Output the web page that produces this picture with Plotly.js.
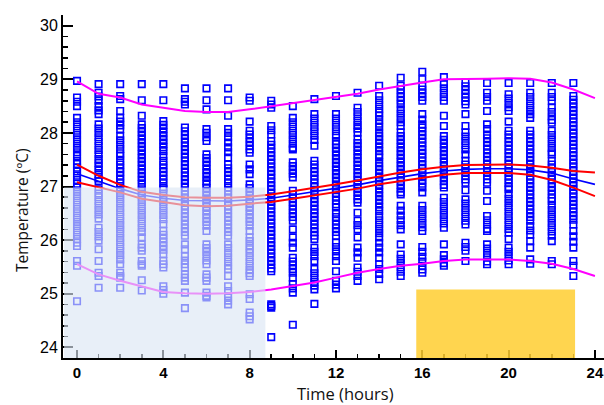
<!DOCTYPE html>
<html>
<head>
<meta charset="utf-8">
<script src="https://cdn.plot.ly/plotly-3.0.1.min.js"></script>
<style>html,body{margin:0;padding:0;background:#fff;}#chart{width:604px;height:405px;}</style>
</head>
<body>
<div id="chart"></div>
<script>
// Observed temperatures (°C) at each hour of day
const h00 = [28.97, 28.66, 28.58, 28.50, 28.28, 28.2, 28.12, 28.04, 27.96, 27.88, 27.8, 27.72, 27.64, 27.57, 27.48, 27.42, 27.35, 27.28, 27.2, 27.12, 27.05, 26.98, 26.9, 26.82, 26.74, 26.66, 26.58, 26.5, 26.42, 26.34, 26.26, 26.18, 26.1, 26.02, 25.95, 25.89, 25.61, 25.52, 24.86];
const h01 = [28.91, 28.75, 28.68, 28.6, 28.5, 28.42, 28.35, 28.16, 28.08, 28.0, 27.92, 27.84, 27.76, 27.68, 27.6, 27.51, 27.44, 27.37, 27.3, 27.22, 27.15, 27.1, 26.95, 26.87, 26.8, 26.72, 26.64, 26.56, 26.48, 26.4, 26.23, 26.15, 26.07, 25.99, 25.83, 25.61, 25.39, 25.33, 25.11];
const h02 = [28.91, 28.69, 28.63, 28.41, 28.28, 28.21, 28.14, 28.07, 27.94, 27.86, 27.78, 27.7, 27.62, 27.57, 27.48, 27.41, 27.34, 27.27, 27.2, 27.13, 27.06, 26.98, 26.92, 26.84, 26.76, 26.68, 26.6, 26.52, 26.44, 26.36, 26.28, 26.2, 26.12, 26.04, 25.96, 25.88, 25.8, 25.72, 25.64, 25.55, 25.39, 25.33, 25.3, 25.11];
const h03 = [28.91, 28.61, 28.32, 28.16, 28.09, 28.02, 27.95, 27.88, 27.81, 27.74, 27.67, 27.6, 27.53, 27.46, 27.39, 27.32, 27.25, 27.18, 27.11, 27.04, 26.95, 26.87, 26.79, 26.71, 26.63, 26.55, 26.47, 26.39, 26.31, 26.23, 26.15, 26.05, 25.92, 25.86, 25.8, 25.61, 25.55, 25.52, 25.25, 25.06];
const h04 = [28.91, 28.61, 28.22, 28.15, 28.08, 28.01, 27.94, 27.87, 27.8, 27.73, 27.66, 27.57, 27.48, 27.41, 27.34, 27.27, 27.2, 27.13, 27.06, 26.98, 26.95, 26.87, 26.79, 26.71, 26.63, 26.55, 26.47, 26.39, 26.3, 26.17, 26.1, 26.03, 25.96, 25.89, 25.82, 25.74, 25.61, 25.55, 25.49, 25.14, 25.07, 25.0];
const h05 = [28.83, 28.63, 28.58, 28.53, 28.1, 28.03, 27.96, 27.89, 27.82, 27.75, 27.68, 27.61, 27.54, 27.47, 27.4, 27.33, 27.26, 27.19, 27.12, 27.05, 26.98, 26.92, 26.85, 26.78, 26.71, 26.64, 26.57, 26.5, 26.43, 26.36, 26.29, 26.22, 26.15, 26.08, 25.92, 25.83, 25.7, 25.62, 25.55, 25.49, 25.36, 25.3, 25.24, 25.02, 24.73];
const h06 = [28.83, 28.61, 28.44, 28.07, 28.0, 27.92, 27.85, 27.6, 27.53, 27.46, 27.39, 27.32, 27.25, 27.18, 27.1, 27.04, 26.97, 26.9, 26.83, 26.76, 26.69, 26.62, 26.55, 26.48, 26.41, 26.34, 26.27, 26.17, 25.92, 25.85, 25.78, 25.7, 25.62, 25.55, 25.36, 25.3, 25.24, 25.02, 24.96, 24.93];
const h07 = [28.83, 28.61, 28.32, 28.07, 28.0, 27.92, 27.82, 27.73, 27.64, 27.54, 27.41, 27.34, 27.27, 27.2, 27.13, 27.06, 26.98, 26.92, 26.85, 26.78, 26.71, 26.64, 26.57, 26.5, 26.43, 26.36, 26.29, 26.22, 26.15, 26.08, 25.92, 25.85, 25.76, 25.68, 25.6, 25.52, 25.46, 25.33, 25.14, 25.05, 24.95, 24.87, 24.8];
const h08 = [28.66, 28.6, 28.21, 28.04, 27.97, 27.9, 27.83, 27.76, 27.69, 27.63, 27.41, 27.32, 27.23, 27.04, 26.97, 26.9, 26.83, 26.76, 26.69, 26.62, 26.55, 26.48, 26.41, 26.34, 26.27, 26.17, 26.05, 25.98, 25.9, 25.83, 25.76, 25.68, 25.6, 25.52, 25.44, 25.38, 25.33, 24.99, 24.9, 24.65, 24.58, 24.52];
const h09 = [28.6, 28.53, 28.47, 28.13, 28.05, 27.97, 27.85, 27.78, 27.71, 27.64, 27.57, 27.5, 27.43, 27.36, 27.29, 27.22, 27.15, 27.08, 27.01, 26.94, 26.87, 26.8, 26.73, 26.66, 26.59, 26.52, 26.45, 26.38, 26.31, 26.24, 26.17, 26.1, 26.03, 25.96, 25.89, 25.82, 25.75, 25.68, 25.61, 25.54, 25.47, 25.42, 24.8, 24.77, 24.74, 24.19];
const h10 = [28.5, 28.28, 28.2, 28.12, 28.04, 27.96, 27.88, 27.8, 27.72, 27.69, 27.45, 27.38, 27.31, 27.24, 27.17, 26.92, 26.85, 26.78, 26.71, 26.64, 26.57, 26.5, 26.43, 26.36, 26.2, 26.05, 25.95, 25.86, 25.67, 25.6, 25.53, 25.46, 25.39, 25.3, 25.18, 25.1, 25.02, 24.42];
const h11 = [28.63, 28.35, 28.27, 28.19, 28.11, 28.03, 27.95, 27.87, 27.76, 27.48, 27.41, 27.34, 27.27, 27.2, 27.13, 27.06, 26.99, 26.92, 26.85, 26.78, 26.71, 26.64, 26.57, 26.5, 26.43, 26.36, 26.29, 26.22, 26.15, 26.08, 26.02, 25.86, 25.78, 25.7, 25.61, 25.46, 25.38, 25.3, 25.22, 25.15, 25.08, 24.81];
const h12 = [28.69, 28.35, 28.27, 28.19, 28.11, 28.03, 27.95, 27.85, 27.79, 27.72, 27.65, 27.58, 27.51, 27.44, 27.37, 27.3, 27.23, 27.16, 27.09, 27.02, 26.95, 26.88, 26.81, 26.74, 26.67, 26.61, 26.51, 26.43, 26.36, 26.29, 26.22, 26.15, 26.08, 25.95, 25.87, 25.79, 25.7, 25.61, 25.42, 25.24, 25.17, 25.1];
const h13 = [28.75, 28.47, 28.39, 28.31, 28.23, 28.15, 28.08, 28.01, 27.88, 27.81, 27.74, 27.67, 27.6, 27.53, 27.46, 27.39, 27.32, 27.25, 27.18, 27.11, 27.04, 26.97, 26.9, 26.83, 26.76, 26.7, 26.51, 26.36, 26.28, 26.2, 26.05, 25.86, 25.77, 25.67, 25.49, 25.41, 25.33, 25.24];
const h14 = [28.88, 28.69, 28.61, 28.53, 28.45, 28.38, 28.32, 28.24, 28.17, 28.1, 28.01, 27.94, 27.87, 27.8, 27.73, 27.66, 27.59, 27.54, 27.45, 27.38, 27.31, 27.24, 27.17, 27.1, 27.03, 26.96, 26.89, 26.82, 26.75, 26.68, 26.61, 26.54, 26.45, 26.37, 26.29, 26.21, 26.13, 26.05, 25.95, 25.86, 25.77, 25.67, 25.55, 25.46, 25.37, 25.27];
const h15 = [29.03, 28.88, 28.81, 28.74, 28.67, 28.6, 28.53, 28.44, 28.36, 28.28, 28.2, 28.13, 28.01, 27.94, 27.87, 27.8, 27.73, 27.66, 27.59, 27.52, 27.45, 27.38, 27.31, 27.24, 27.17, 27.1, 27.03, 26.96, 26.89, 26.85, 26.64, 26.55, 26.46, 26.37, 26.28, 26.2, 25.92, 25.73, 25.65, 25.57, 25.49, 25.41, 25.33];
const h16 = [29.14, 29.0, 28.88, 28.81, 28.74, 28.67, 28.6, 28.35, 28.25, 28.16, 28.1, 28.03, 27.96, 27.89, 27.82, 27.75, 27.68, 27.61, 27.54, 27.47, 27.4, 27.33, 27.26, 27.19, 27.12, 27.05, 26.98, 26.89, 26.64, 26.56, 26.48, 26.4, 26.32, 26.24, 26.17, 25.87, 25.78, 25.69, 25.6, 25.52, 25.45, 25.39];
const h17 = [29.04, 28.91, 28.83, 28.75, 28.67, 28.6, 28.32, 28.13, 27.94, 27.87, 27.8, 27.73, 27.66, 27.59, 27.52, 27.45, 27.38, 27.31, 27.24, 27.17, 27.1, 27.03, 26.98, 26.79, 26.71, 26.63, 26.55, 26.47, 26.39, 26.31, 26.23, 25.92, 25.72, 25.64, 25.57, 25.52];
const h18 = [28.94, 28.87, 28.8, 28.73, 28.66, 28.59, 28.53, 28.35, 28.13, 28.01, 27.93, 27.85, 27.77, 27.69, 27.6, 27.48, 27.41, 27.34, 27.27, 27.2, 27.13, 27.07, 26.93, 26.76, 26.68, 26.6, 26.52, 26.44, 26.36, 26.29, 25.95, 25.87, 25.8, 25.61];
const h19 = [28.93, 28.75, 28.67, 28.6, 28.41, 28.16, 28.07, 27.97, 27.9, 27.83, 27.76, 27.69, 27.62, 27.55, 27.48, 27.41, 27.34, 27.27, 27.2, 27.13, 27.07, 26.92, 26.73, 26.45, 26.37, 26.29, 26.21, 26.17, 25.92, 25.84, 25.76, 25.68, 25.6, 25.55];
const h20 = [28.93, 28.72, 28.64, 28.56, 28.48, 28.41, 28.21, 28.04, 27.97, 27.9, 27.83, 27.76, 27.69, 27.62, 27.55, 27.48, 27.41, 27.34, 27.27, 27.2, 27.13, 27.06, 26.99, 26.95, 26.85, 26.77, 26.69, 26.61, 26.53, 26.45, 26.37, 26.29, 26.21, 26.14, 26.02, 25.86, 25.78, 25.7, 25.62, 25.55];
const h21 = [28.93, 28.75, 28.67, 28.59, 28.51, 28.43, 28.35, 28.28, 28.04, 27.97, 27.9, 27.83, 27.76, 27.69, 27.62, 27.55, 27.48, 27.41, 27.34, 27.27, 27.2, 27.13, 27.06, 26.99, 26.92, 26.85, 26.78, 26.71, 26.64, 26.57, 26.5, 26.43, 26.36, 26.26, 26.18, 26.1, 25.98, 25.86, 25.64, 25.56];
const h22 = [28.93, 28.75, 28.67, 28.6, 28.47, 28.39, 28.31, 28.24, 28.19, 28.04, 27.96, 27.88, 27.8, 27.72, 27.64, 27.6, 27.48, 27.41, 27.34, 27.27, 27.2, 27.13, 27.06, 26.99, 26.92, 26.85, 26.78, 26.73, 26.64, 26.56, 26.48, 26.4, 26.32, 26.24, 26.16, 26.08, 25.98, 25.61, 25.55];
const h23 = [28.93, 28.69, 28.62, 28.55, 28.48, 28.41, 28.34, 28.27, 28.2, 28.13, 28.06, 27.99, 27.92, 27.85, 27.78, 27.71, 27.64, 27.57, 27.5, 27.43, 27.36, 27.29, 27.22, 27.15, 27.08, 27.01, 26.94, 26.87, 26.8, 26.73, 26.66, 26.59, 26.52, 26.45, 26.38, 26.29, 26.17, 26.07, 25.97, 25.86, 25.61, 25.52, 25.33];

// Fitted curve and bands, read at each hour 0..24
const fitHours  = [0,1,2,3,4,5,6,7,8,9,10,11,12,13,14,15,16,17,18,19,20,21,22,23,24];
const fitMean   = [27.24,27.10,26.96,26.84,26.78,26.74,26.73,26.73,26.75,26.78,26.84,26.90,26.96,27.03,27.11,27.18,27.24,27.29,27.32,27.33,27.33,27.31,27.25,27.14,27.04];
const ciUpper   = [27.41,27.20,27.03,26.90,26.84,26.80,26.79,26.79,26.81,26.85,26.91,26.97,27.04,27.11,27.19,27.26,27.32,27.37,27.40,27.41,27.41,27.39,27.35,27.29,27.26];
const ciLower   = [27.08,26.99,26.89,26.77,26.71,26.65,26.63,26.64,26.68,26.71,26.77,26.83,26.89,26.96,27.04,27.10,27.17,27.22,27.25,27.25,27.25,27.22,27.12,26.98,26.82];
const piUpper   = [28.96,28.73,28.66,28.53,28.47,28.41,28.39,28.39,28.44,28.50,28.55,28.61,28.68,28.73,28.81,28.88,28.94,29.00,29.00,29.01,29.02,29.01,28.94,28.81,28.65];
const piLower   = [25.55,25.36,25.24,25.13,25.03,25.01,25.00,25.01,25.03,25.08,25.14,25.21,25.30,25.39,25.46,25.52,25.56,25.61,25.64,25.64,25.64,25.61,25.56,25.46,25.33];

// Highlighted periods
const lowPeriod  = {x0: -0.6, x1: 8.73, top: 26.98};
const highPeriod = {x0: 15.72, x1: 23.08, top: 25.08};

const hourly = [h00,h01,h02,h03,h04,h05,h06,h07,h08,h09,h10,h11,h12,h13,h14,h15,h16,h17,h18,h19,h20,h21,h22,h23];
const xs = [], ys = [];
hourly.forEach((arr, h) => arr.forEach(v => { xs.push(h); ys.push(v); }));

const traces = [
  {x: xs, y: ys, type: 'scatter', mode: 'markers',
   marker: {symbol: 'square-open', size: 6.5, color: '#0000ff', line: {width: 1.6, color: '#0000ff'}}},
  {x: fitHours, y: piUpper, mode: 'lines', line: {color: '#ff00ff', width: 2}},
  {x: fitHours, y: piLower, mode: 'lines', line: {color: '#ff00ff', width: 2}},
  {x: fitHours, y: ciUpper, mode: 'lines', line: {color: '#ff0000', width: 2}},
  {x: fitHours, y: ciLower, mode: 'lines', line: {color: '#ff0000', width: 2}},
  {x: fitHours, y: fitMean, mode: 'lines', line: {color: '#0000ff', width: 1.6}}
];

const layout = {
  width: 604, height: 405,
  margin: {l: 63, r: 0, t: 15, b: 47},
  paper_bgcolor: '#ffffff', plot_bgcolor: '#ffffff',
  showlegend: false,
  xaxis: {
    range: [-0.65, 24.42], showgrid: false, zeroline: false,
    showline: true, linecolor: '#000', linewidth: 2,
    tick0: 0, dtick: 4, ticks: 'inside', ticklen: 8, tickwidth: 2, tickcolor: '#000',
    minor: {dtick: 1, ticks: 'inside', ticklen: 4, tickwidth: 1.5, tickcolor: '#000', showgrid: false},
    tickfont: {family: 'Liberation Sans, Arial, sans-serif', size: 15, color: '#000', weight: 'bold'},
    ticklabelstandoff: 0
  },
  yaxis: {
    range: [23.8, 30.2], showgrid: false, zeroline: false,
    showline: true, linecolor: '#000', linewidth: 2,
    tick0: 24, dtick: 1, ticks: 'inside', ticklen: 10, tickwidth: 2, tickcolor: '#000',
    minor: {dtick: 0.2, ticks: 'inside', ticklen: 5, tickwidth: 1.5, tickcolor: '#000', showgrid: false},
    tickfont: {family: 'Liberation Sans, Arial, sans-serif', size: 16, color: '#000'},
    ticklabelstandoff: 0
  },
  shapes: [
    {type: 'rect', xref: 'x', yref: 'y', x0: lowPeriod.x0, x1: lowPeriod.x1, y0: 23.77, y1: lowPeriod.top,
     fillcolor: 'rgb(219,229,244)', opacity: 0.63, line: {width: 0}, layer: 'above'},
    {type: 'rect', xref: 'x', yref: 'y', x0: highPeriod.x0, x1: highPeriod.x1, y0: 23.77, y1: highPeriod.top,
     fillcolor: 'rgb(255,206,48)', opacity: 0.85, line: {width: 0}, layer: 'above'}
  ],
  annotations: [
    {text: 'Temperature (ºC)', xref: 'paper', yref: 'paper', x: 0, y: 0.5, showarrow: false,
     textangle: -90, font: {family: 'Open Sans, sans-serif', size: 15.5, color: '#111'},
     xanchor: 'center', yanchor: 'middle', xshift: -41},
    {text: 'Time (hours)', xref: 'paper', yref: 'paper', x: 0.5, y: 0, showarrow: false,
     font: {family: 'Open Sans, sans-serif', size: 16.5, color: '#111'},
     xanchor: 'center', yanchor: 'middle', yshift: -35.5, xshift: 12}
  ]
};
// centre the y title at pixel row 210 of the plot
layout.annotations[0].y = (405 - 47 - 210) / (405 - 47 - 15);

Plotly.newPlot('chart', traces, layout, {displayModeBar: false, staticPlot: true});
</script>
</body>
</html>
